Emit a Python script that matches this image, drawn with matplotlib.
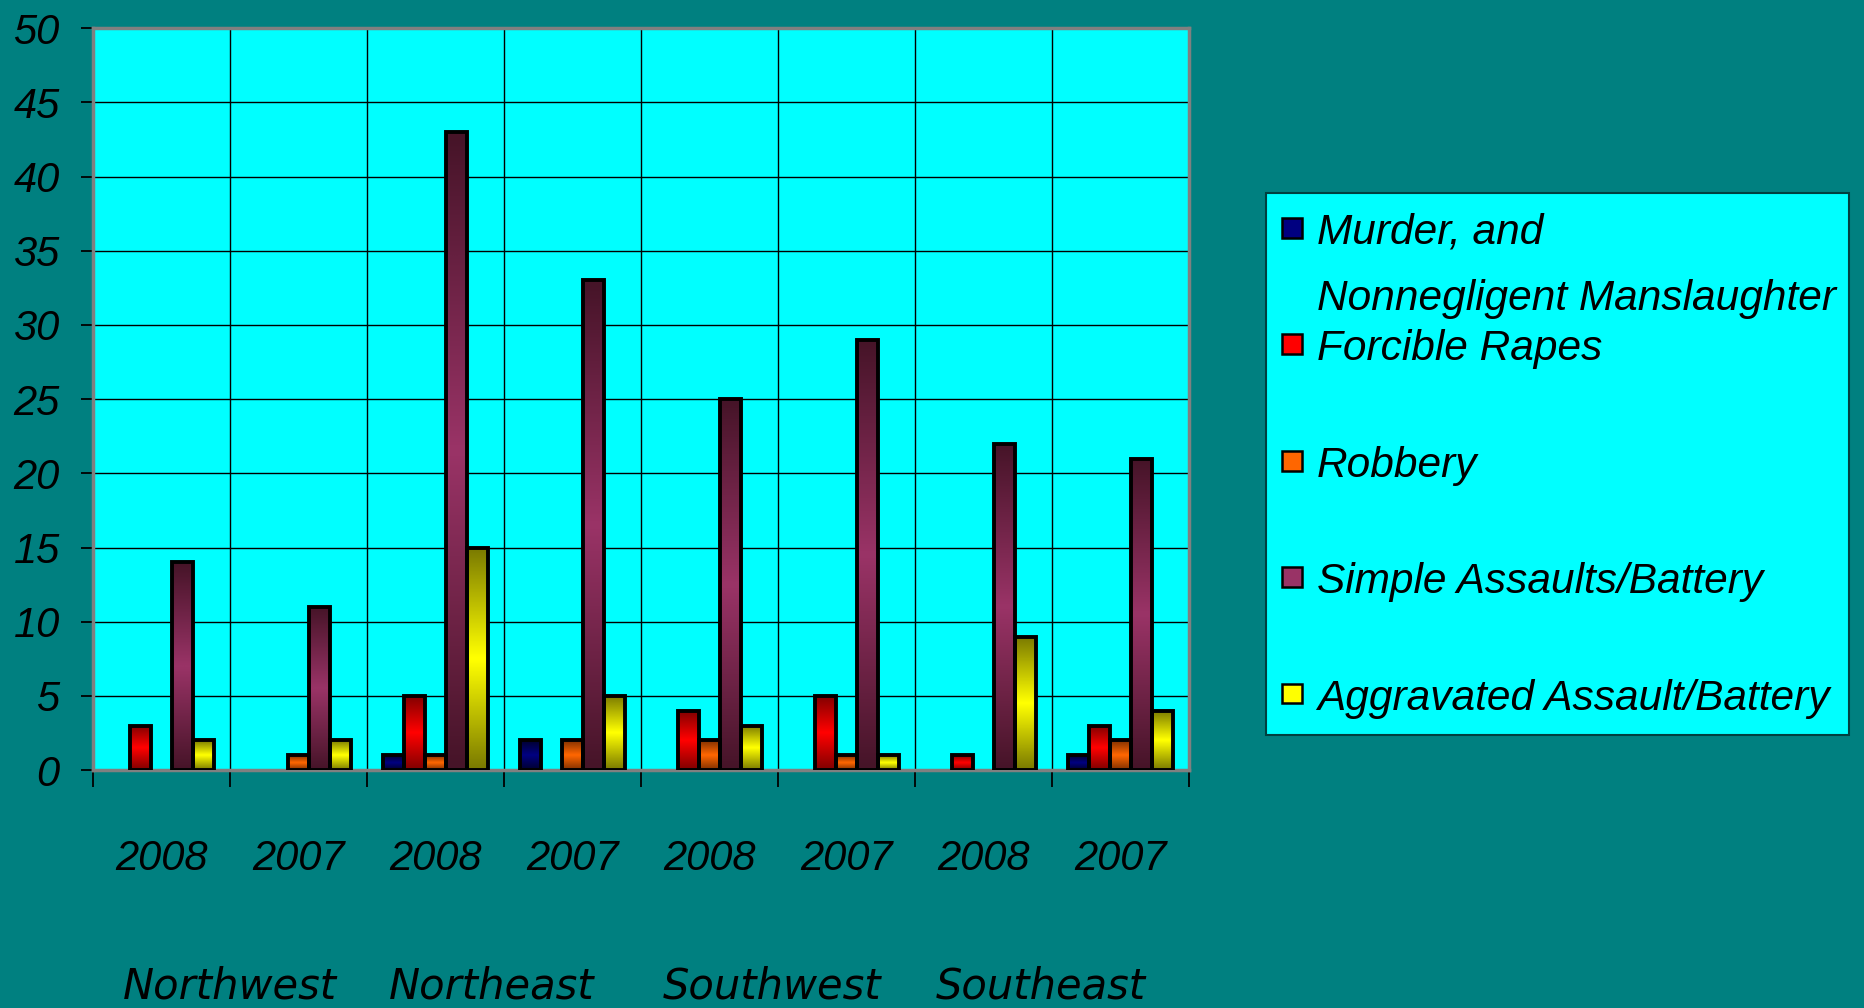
import numpy as np
import matplotlib
matplotlib.use('Agg')
import matplotlib.pyplot as plt
import matplotlib.transforms as mtransforms
from matplotlib.colors import LinearSegmentedColormap
from matplotlib.patches import Rectangle

# data
regions = ['Northwest', 'Northeast', 'Southwest', 'Southeast']
years = ['2008', '2007', '2008', '2007', '2008', '2007', '2008', '2007']
series_names = ['Murder, and\nNonnegligent Manslaughter', 'Forcible Rapes', 'Robbery',
                'Simple Assaults/Battery', 'Aggravated Assault/Battery']
murder = [0, 0, 1, 2, 0, 0, 0, 1]
rapes = [3, 0, 5, 0, 4, 5, 1, 3]
robbery = [0, 1, 1, 2, 2, 1, 0, 2]
simple_assault = [14, 11, 43, 33, 25, 29, 22, 21]
aggravated = [2, 2, 15, 5, 3, 1, 9, 4]
y_ticks = [0, 5, 10, 15, 20, 25, 30, 35, 40, 45, 50]

bright = ['#000080', '#ff0000', '#ff6600', '#993366', '#ffff00']
dark = ['#00002e', '#800000', '#803000', '#461428', '#7a7a00']

BG = '#008080'
PLOT_BG = '#00ffff'
TICK_FONT = ['Liberation Sans Narrow', 'Liberation Sans', 'DejaVu Sans']

fig = plt.figure(figsize=(18.64, 10.08), dpi=100, facecolor=BG)
ax = fig.add_axes([0.0499, 0.236, 0.588, 0.736])
ax.set_facecolor(PLOT_BG)

all_series = [murder, rapes, robbery, simple_assault, aggravated]
x = np.arange(len(years))
bar_w = 0.154
grad = np.concatenate([np.linspace(0, 1, 40), np.linspace(1, 0, 40)]).reshape(-1, 1)

for k, vals in enumerate(all_series):
    offs = (k - 2) * bar_w
    bars = ax.bar(x + offs, vals, width=bar_w, facecolor='none', edgecolor='black',
                  linewidth=2.8, zorder=4, label=series_names[k])
    cmap = LinearSegmentedColormap.from_list('g%d' % k, [dark[k], bright[k]])
    for b in bars:
        h = b.get_height()
        if h == 0:
            b.set_visible(False)
            continue
        x0 = b.get_x()
        ax.imshow(grad, extent=[x0, x0 + bar_w, 0, h], origin='lower', aspect='auto',
                  cmap=cmap, interpolation='bilinear', zorder=3)

ax.set_xlim(-0.5, len(years) - 0.5)
ax.set_ylim(0, 50)
ax.set_aspect('auto')

# grid at group boundaries and every 5
ax.set_yticks(y_ticks)
ax.set_xticks(x)
ax.set_xticks(np.arange(len(years) + 1) - 0.5, minor=True)
ax.grid(True, which='major', axis='y', color='black', linewidth=1.0, zorder=1)
ax.grid(True, which='minor', axis='x', color='black', linewidth=1.0, zorder=1)
ax.set_axisbelow(True)

for s in ax.spines.values():
    s.set_color('#808080')
    s.set_linewidth(2.5)

ax.tick_params(axis='y', length=9, width=1.3, color='black', direction='out', pad=15,
               labelsize=30, labelcolor='black')
ax.tick_params(axis='x', which='major', length=0, pad=49.5, labelsize=30, labelcolor='black')
ax.tick_params(axis='x', which='minor', length=12, width=1.3, color='black', direction='out')
ax.set_xticklabels(years)
ax.set_yticklabels([str(v) for v in y_ticks])
for lab in ax.get_xticklabels() + ax.get_yticklabels():
    lab.set_family(TICK_FONT)
    lab.set_style('italic')

# region labels under each pair of years (slightly left of the pair centre, as in the original)
region_pos = [0.5, 2.41, 4.46, 6.42]
trans = mtransforms.blended_transform_factory(ax.transData, ax.transAxes)
for pos, name in zip(region_pos, regions):
    ax.text(pos, -0.291, name, transform=trans, ha='center', va='center',
            fontsize=30, style='italic', family=['DejaVu Sans'], color='black')

# legend box drawn by hand to follow the original layout
fig.patches.append(Rectangle((0.679, 0.271), 0.313, 0.538, transform=fig.transFigure,
                             facecolor=PLOT_BG, edgecolor='#004040', linewidth=1.5))
top_y = 0.774
step = 0.1155
line_step = 0.0655
for k, name in enumerate(series_names):
    cy = top_y - k * step
    fig.patches.append(Rectangle((0.6878, cy - 0.0099), 0.0107, 0.0198,
                                 transform=fig.transFigure, facecolor=bright[k],
                                 edgecolor='black', linewidth=1.8))
    extra = name.count('\n') * line_step
    fig.text(0.7066, cy - 0.016 - extra, name, ha='left', va='baseline', fontsize=30.5,
             style='italic', family=['Liberation Sans', 'DejaVu Sans'], color='black',
             linespacing=1.85)

fig.savefig('out.png', dpi=100, facecolor=BG)
